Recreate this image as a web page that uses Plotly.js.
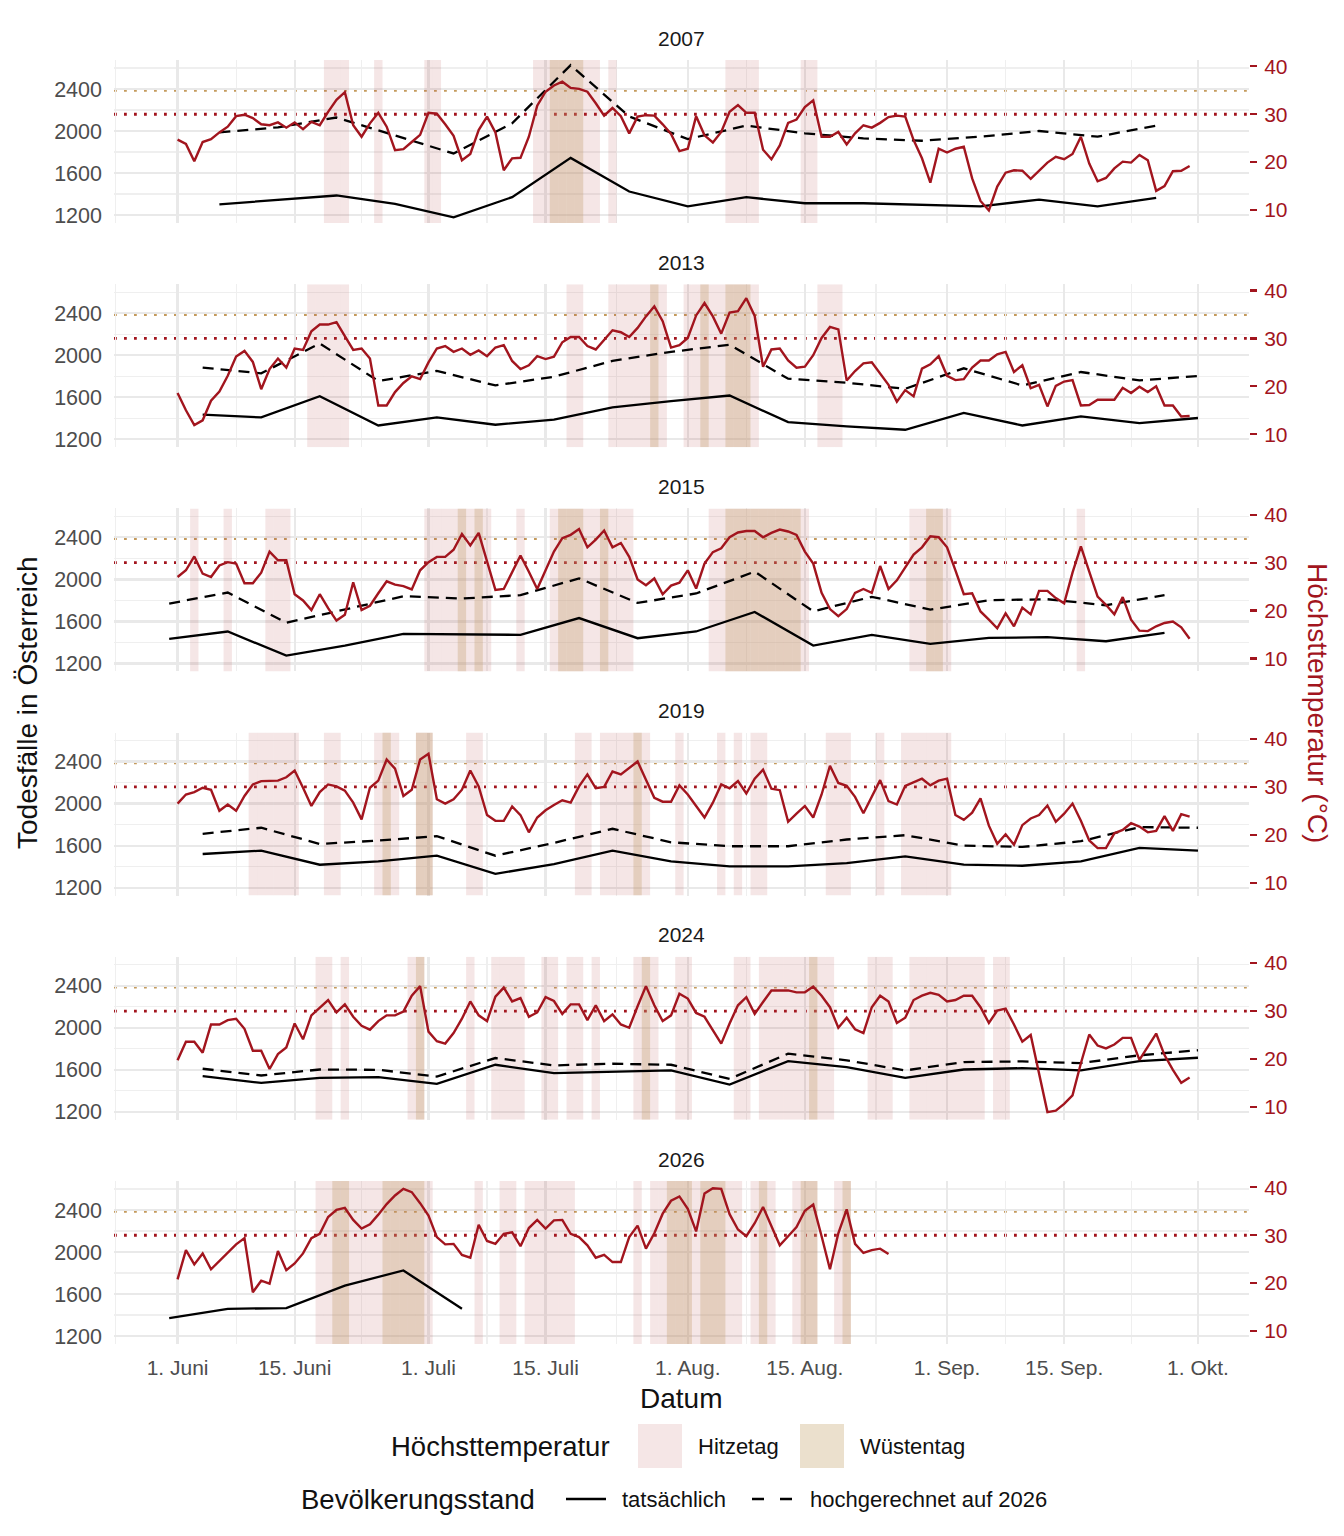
<!DOCTYPE html>
<html>
<head>
<meta charset="utf-8">
<script src="https://cdn.plot.ly/plotly-3.0.1.min.js"></script>
<style>
  body { margin: 0; background: #fff; }
  #chart { width: 1344px; height: 1536px; }
</style>
</head>
<body>
<div id="chart"></div>
<script>
// facet years
var years = ['2007', '2013', '2015', '2019', '2024', '2026'];

// daily maximum temperature (°C), day 0 = 1. Juni
var temp2007 = [
  24.7,23.8,20.2,24.2,24.8,26.2,27.4,29.6,29.9,29.2,
  27.9,27.7,28.3,27.2,28.3,26.9,28.4,27.7,30.5,33.0,
  34.6,27.7,25.3,28.1,30.3,27.4,22.5,22.7,24.2,25.7,
  30.3,30.1,27.9,25.5,20.4,21.7,26.7,29.5,26.2,18.3,
  20.8,20.9,25.3,31.8,34.7,36.0,36.8,35.5,35.3,34.7,
  32.3,29.7,31.3,29.6,26.0,29.5,29.8,29.7,27.9,25.9,
  22.3,22.8,29.6,25.6,24.1,26.3,30.5,31.9,30.3,30.3,
  22.6,20.6,23.5,28.2,28.9,31.5,32.9,25.3,25.3,26.3,
  23.7,26.0,27.7,27.2,28.2,29.4,29.7,29.5,24.6,20.8,
  15.7,22.8,22.0,22.8,23.2,16.6,11.9,9.9,14.9,17.8,
  18.3,18.2,16.5,18.2,19.9,21.1,20.6,21.7,25.3,19.7,
  16.0,16.7,18.7,20.1,19.9,21.5,20.4,14.0,15.0,18.1,18.2,19.2];
var temp2013 = [
  18.6,15.0,11.9,12.9,17.0,18.9,22.2,26.2,27.4,25.1,
  19.4,23.6,25.8,23.9,27.9,27.6,31.5,32.9,32.9,33.4,
  30.5,27.6,27.9,25.8,16.0,16.0,18.8,20.7,22.1,21.5,
  25.0,27.9,28.4,27.2,27.9,26.6,27.5,26.3,28.1,28.6,
  25.3,23.6,24.4,26.3,25.7,26.2,29.2,30.3,30.3,28.4,
  27.7,29.8,31.7,31.3,30.3,32.2,34.6,36.7,33.6,28.1,
  28.6,30.1,34.8,37.4,34.6,31.0,35.4,35.7,38.4,34.7,
  24.1,27.7,27.9,25.4,23.9,24.1,26.5,30.1,32.4,31.9,
  21.2,23.2,24.8,25.0,22.6,20.3,16.8,19.2,17.9,23.7,
  24.6,26.3,22.2,21.3,21.5,23.9,25.4,25.4,26.7,27.2,
  23.0,24.4,19.6,20.3,15.8,20.1,21.0,21.3,16.0,16.1,
  17.2,17.2,17.2,19.7,18.6,19.9,18.8,20.0,16.0,16.0,13.7,13.8];
var temp2015 = [
  27.0,28.4,31.3,27.7,27.0,29.4,30.1,29.8,25.7,25.7,
  27.9,32.3,30.5,30.5,23.4,22.1,20.1,23.4,20.5,17.9,
  19.1,25.9,20.1,21.0,23.6,26.1,25.4,25.1,24.4,28.4,
  30.1,31.2,31.2,32.7,36.0,33.6,36.2,30.5,24.3,24.5,
  27.9,31.5,28.1,24.5,28.4,32.3,35.1,35.8,37.0,33.2,
  34.8,36.7,33.2,34.1,31.2,26.5,25.3,26.7,23.4,25.2,
  25.8,28.4,24.6,29.8,32.2,33.0,35.3,36.3,36.6,36.6,
  35.3,36.2,36.9,36.5,35.8,32.3,29.8,23.7,20.3,18.8,
  20.3,23.7,24.5,23.7,29.3,24.5,26.3,29.1,31.7,33.2,
  35.5,35.3,33.2,28.4,23.4,23.6,19.8,18.1,16.3,19.4,
  16.7,20.6,19.2,24.1,24.1,22.6,21.5,27.9,33.4,28.1,
  22.9,21.2,19.2,22.8,18.1,15.8,15.7,16.7,17.4,17.7,16.5,14.1];
var temp2019 = [
  26.5,28.4,28.9,29.8,29.4,25.0,26.3,25.0,28.1,30.5,
  31.2,31.2,31.3,32.0,33.4,29.8,26.0,28.9,30.5,30.1,
  29.2,26.7,23.2,29.8,31.3,35.7,33.8,28.1,29.4,35.7,
  36.9,27.4,26.5,27.4,29.4,33.4,30.1,24.1,22.9,22.9,
  25.9,24.1,20.5,23.6,25.1,26.2,27.2,26.7,30.1,32.6,
  29.7,30.0,33.2,32.6,33.9,35.3,31.5,27.7,26.9,26.9,
  30.3,28.4,26.0,23.6,26.7,30.5,29.7,31.2,28.6,31.7,
  33.6,29.6,29.3,22.7,24.4,26.0,23.6,28.4,34.4,30.8,
  30.2,27.9,24.5,28.1,31.4,27.0,26.3,30.2,31.0,31.7,
  30.3,31.3,31.7,24.1,23.1,24.6,27.6,21.9,18.1,20.1,
  17.9,22.0,23.4,24.1,26.1,22.7,24.4,26.5,22.9,18.8,
  17.2,17.2,20.3,21.0,22.4,21.7,20.5,20.8,23.9,20.8,24.3,23.8];
var temp2024 = [
  19.7,23.6,23.6,21.3,27.2,27.2,28.1,28.4,26.3,21.7,
  21.7,17.9,21.0,22.4,27.4,24.1,29.1,30.7,32.3,29.7,
  31.4,28.8,26.9,26.1,27.9,29.1,29.1,29.9,33.2,35.2,
  25.7,23.7,23.2,25.4,28.4,32.0,29.1,27.9,33.0,34.9,
  32.0,32.7,28.8,29.7,32.9,32.1,29.4,31.4,31.4,28.1,
  31.2,27.9,29.3,27.2,26.5,31.0,35.2,31.2,27.9,29.1,
  33.6,32.6,29.6,28.8,26.0,23.2,27.4,31.2,32.9,29.4,
  31.9,34.3,34.3,34.3,33.9,33.9,35.1,33.2,30.8,26.5,
  28.6,26.2,25.4,30.8,33.2,32.0,27.5,28.6,32.3,33.2,
  33.8,33.4,32.0,32.3,33.2,33.2,30.8,27.5,30.1,30.5,
  27.2,23.6,25.0,17.3,8.9,9.2,10.6,12.4,19.1,25.1,
  22.8,22.2,23.0,24.4,24.4,19.8,22.6,25.3,20.8,17.7,15.0,16.1];
var temp2026 = [
  20.8,26.9,23.9,26.2,22.9,24.6,26.3,28.1,29.4,18.1,
  20.5,19.9,26.7,22.7,24.1,26.2,29.4,30.3,33.8,35.3,
  35.7,33.2,31.4,32.3,34.3,36.5,38.3,39.7,39.0,36.7,
  34.1,29.6,28.1,28.2,25.9,25.3,32.2,28.8,28.2,30.3,
  30.6,27.7,31.5,33.2,31.4,33.1,33.2,30.3,29.6,27.9,
  25.3,25.9,24.4,24.4,29.6,32.0,27.2,30.4,34.5,37.2,
  38.1,35.5,30.8,38.7,39.8,39.7,34.4,31.2,29.8,32.5,
  35.9,31.8,27.9,29.8,31.7,35.1,36.4,29.8,22.9,30.4,
  35.4,28.2,26.3,26.9,27.2,26.1];

// Hitzetage (>= 30 °C) and Wüstentage (>= 35 °C) as [first day, last day]
var hitze2007 = [[18,20],[24,24],[30,31],[43,50],[52,52],[66,69],[75,76]];
var wueste2007 = [[45,48]];
var hitze2013 = [[16,20],[47,48],[52,58],[61,69],[77,79]];
var wueste2013 = [[57,57],[63,63],[66,68]];
var hitze2015 = [[2,2],[6,6],[11,13],[30,37],[41,41],[45,54],[64,75],[88,92],[108,108]];
var wueste2015 = [[34,34],[36,36],[46,48],[51,51],[66,74],[90,91]];
var hitze2019 = [[9,14],[18,19],[24,26],[29,30],[35,36],[48,49],[51,56],[60,60],[65,65],[67,67],[69,70],[78,80],[84,84],[87,92]];
var wueste2019 = [[25,25],[29,30],[55,55]];
var hitze2024 = [[17,18],[20,20],[28,29],[35,35],[38,41],[44,45],[47,48],[50,50],[55,57],[60,61],[67,68],[70,78],[83,85],[88,96],[98,99]];
var wueste2024 = [[29,29],[56,56],[76,76]];
var hitze2026 = [[17,30],[36,36],[39,40],[42,47],[55,55],[57,67],[69,71],[74,76],[79,80]];
var wueste2026 = [[19,20],[25,29],[59,61],[63,65],[70,70],[75,76],[80,80]];

// weekly deaths: week day (days after 1. Juni), actual, projected to 2026 population
var week2007 = [5,12,19,26,33,40,47,54,61,68,75,82,89,96,103,110,117];
var actual2007 = [1302,1344,1386,1306,1178,1370,1744,1424,1283,1370,1312,1312,1299,1283,1347,1283,1363];
var proj2007 = [1987,2035,2128,1955,1786,2074,2627,2138,1923,2051,1978,1930,1907,1946,2000,1946,2051];
var week2013 = [3,10,17,24,31,38,45,52,59,66,73,80,87,94,101,108,115,122];
var actual2013 = [1434,1408,1610,1331,1408,1338,1386,1504,1562,1616,1363,1322,1290,1450,1331,1418,1354,1402];
var proj2013 = [1882,1827,2112,1754,1850,1712,1795,1946,2032,2099,1776,1738,1680,1875,1712,1840,1760,1802];
var week2015 = [-1,6,13,20,27,34,41,48,55,62,69,76,83,90,97,104,111,118];
var actual2015 = [1434,1504,1274,1370,1482,1475,1472,1632,1440,1504,1690,1370,1472,1386,1443,1450,1411,1491];
var proj2015 = [1770,1875,1587,1712,1840,1818,1850,2010,1776,1866,2074,1696,1834,1712,1802,1811,1754,1850];
var week2019 = [3,10,17,24,31,38,45,52,59,66,73,80,87,94,101,108,115,122];
var actual2019 = [1520,1552,1418,1450,1504,1331,1424,1552,1450,1402,1402,1434,1498,1418,1408,1450,1578,1552];
var proj2019 = [1712,1770,1616,1648,1690,1504,1626,1760,1632,1594,1594,1658,1699,1600,1587,1642,1776,1770];
var week2024 = [3,10,17,24,31,38,45,52,59,66,73,80,87,94,101,108,115,122];
var actual2024 = [1539,1475,1523,1530,1466,1648,1568,1584,1594,1459,1683,1626,1523,1603,1616,1594,1683,1715];
var proj2024 = [1610,1546,1603,1600,1536,1712,1642,1658,1648,1514,1754,1690,1594,1674,1680,1664,1738,1786];
var week2026 = [-1,6,13,20,27,34];
var actual2026 = [1370,1459,1466,1680,1824,1459];
var proj2026 = [];

// x axis ticks (days after 1. Juni)
var tickDays = [0,14,30,44,61,75,92,106,122];
var tickLabels = ['1. Juni','15. Juni','1. Juli','15. Juli','1. Aug.','15. Aug.','1. Sep.','15. Sep.','1. Okt.'];
var minorDays = [-7.4,7,22,37,52.5,68,83.5,99,114];

var temps = [temp2007,temp2013,temp2015,temp2019,temp2024,temp2026];
var hitze = [hitze2007,hitze2013,hitze2015,hitze2019,hitze2024,hitze2026];
var wueste = [wueste2007,wueste2013,wueste2015,wueste2019,wueste2024,wueste2026];
var weeks = [week2007,week2013,week2015,week2019,week2024,week2026];
var actual = [actual2007,actual2013,actual2015,actual2019,actual2024,actual2026];
var proj = [proj2007,proj2013,proj2015,proj2019,proj2024,proj2026];

var W = 1344, H = 1536;
var FONT = 'Liberation Sans, Arial, Helvetica, sans-serif';
var RED = '#a2151e';
var PINK = 'rgba(180,60,60,0.13)';
var TAN = 'rgba(195,160,115,0.34)';
var GRID = '#e9e9e9', GRID_MINOR = '#efefef';
var yLo = 1124, yHi = 2676;
// secondary axis: deaths = 1247.6 + 45.6 * (temp - 10)
function tempOf(d) { return 10 + (d - 1247.6) / 45.6; }
function px(v) { return v / W; }
function py(v) { return 1 - v / H; }

function expand(ranges) {
  var out = [];
  ranges.forEach(function (r) {
    for (var d = r[0]; d <= r[1]; d++) out.push(d);
  });
  return out;
}

var data = [];
var layout = {
  width: W, height: H,
  margin: {l: 0, r: 0, t: 0, b: 0},
  paper_bgcolor: '#fff', plot_bgcolor: 'rgba(0,0,0,0)',
  showlegend: false, hovermode: false, barmode: 'overlay',
  font: {family: FONT, color: '#1a1a1a'},
  shapes: [], annotations: []
};

for (var i = 0; i < years.length; i++) {
  var xa = i === 0 ? 'x' : 'x' + (i + 1);
  var yl = i === 0 ? 'y' : 'y' + (2 * i + 1);
  var yr = 'y' + (2 * i + 2);
  var panelTop = 60 + 224.2 * i, panelBottom = panelTop + 163;

  //shaded hot days span the whole panel height
  var hd = expand(hitze[i]), wd = expand(wueste[i]);
  data.push({type: 'bar', x: hd, y: hd.map(function () { return yHi - yLo; }), base: yLo,
    width: 1, marker: {color: PINK, line: {width: 0}}, xaxis: xa, yaxis: yl, hoverinfo: 'skip'});
  data.push({type: 'bar', x: wd, y: wd.map(function () { return yHi - yLo; }), base: yLo,
    width: 1, marker: {color: TAN, line: {width: 0}}, xaxis: xa, yaxis: yl, hoverinfo: 'skip'});

  data.push({type: 'scatter', mode: 'lines', x: weeks[i], y: actual[i],
    line: {color: '#000', width: 2.3}, xaxis: xa, yaxis: yl});
  if (proj[i].length) {
    data.push({type: 'scatter', mode: 'lines', x: weeks[i], y: proj[i],
      line: {color: '#000', width: 2.3, dash: '11px,7px'}, xaxis: xa, yaxis: yl});
  }
  data.push({type: 'scatter', mode: 'lines', x: temps[i].map(function (_, d) { return d; }), y: temps[i],
    line: {color: RED, width: 2.4}, xaxis: xa, yaxis: yr});

  layout[i === 0 ? 'xaxis' : 'xaxis' + (i + 1)] = {
    domain: [px(114), px(1249)], range: [-7.6, 128.1], anchor: yl,
    tickmode: 'array', tickvals: tickDays, ticktext: tickLabels,
    showticklabels: i === years.length - 1, ticks: '', ticklabelstandoff: 9,
    tickfont: {size: 21, color: '#4d4d4d'},
    showgrid: true, gridcolor: GRID, gridwidth: 2.2,
    minor: {tickvals: minorDays, showgrid: true, gridcolor: GRID_MINOR, gridwidth: 1.1, ticks: ''},
    zeroline: false, showline: false, fixedrange: true
  };
  layout[i === 0 ? 'yaxis' : 'yaxis' + (2 * i + 1)] = {
    domain: [py(panelBottom), py(panelTop)], range: [yLo, yHi], anchor: xa,
    tickmode: 'array', tickvals: [1200, 1600, 2000, 2400], ticks: '', ticklabelstandoff: 11,
    tickfont: {size: 21.5, color: '#4d4d4d'},
    showgrid: true, gridcolor: GRID, gridwidth: 2.2,
    minor: {tickvals: [1400, 1800, 2200, 2600], showgrid: true, gridcolor: GRID_MINOR, gridwidth: 1.1, ticks: ''},
    zeroline: false, showline: false, fixedrange: true
  };
  layout['yaxis' + (2 * i + 2)] = {
    overlaying: yl, side: 'right', anchor: xa,
    range: [tempOf(yLo), tempOf(yHi)], tickmode: 'array', tickvals: [10, 20, 30, 40],
    ticks: 'outside', ticklen: 7, tickwidth: 2.2, tickcolor: RED, ticklabelstandoff: 3,
    tickfont: {size: 21, color: RED},
    showgrid: false, zeroline: false, showline: false, fixedrange: true
  };

  //threshold lines at 30 and 35 °C
  layout.shapes.push({type: 'line', xref: xa + ' domain', yref: yr, x0: 0, x1: 1, y0: 30, y1: 30,
    line: {color: RED, width: 2.8, dash: '2.8px,7.2px'}, layer: 'below'});
  layout.shapes.push({type: 'line', xref: xa + ' domain', yref: yr, x0: 0, x1: 1, y0: 35, y1: 35,
    line: {color: '#c49a5c', width: 2.8, dash: '2.8px,7.2px'}, layer: 'below'});

  layout.annotations.push({text: years[i], xref: 'paper', yref: 'paper',
    x: px((114 + 1249) / 2), y: py(panelTop - 22), showarrow: false,
    font: {size: 21, color: '#1a1a1a'}, xanchor: 'center', yanchor: 'middle'});
}

// axis titles
function title(t, x, y, angle, color) {
  layout.annotations.push({text: t, xref: 'paper', yref: 'paper', x: px(x), y: py(y),
    xanchor: 'center', yanchor: 'middle', textangle: angle, showarrow: false,
    font: {size: 28, color: color}});
}
title('Todesfälle in Österreich', 27, 703, -90, '#111');
title('Höchsttemperatur (°C)', 1318, 703, 90, RED);
title('Datum', 681, 1398, 0, '#111');

// legend, drawn by hand
function legendText(t, x, y, size) {
  layout.annotations.push({text: t, xref: 'paper', yref: 'paper', x: px(x), y: py(y),
    xanchor: 'left', yanchor: 'middle', showarrow: false, font: {size: size, color: '#111'}});
}
legendText('Höchsttemperatur', 389, 1446, 27.5);
legendText('Hitzetag', 696, 1446, 22);
legendText('Wüstentag', 858, 1446, 22);
legendText('Bevölkerungsstand', 299, 1499, 27.5);
legendText('tatsächlich', 620, 1499, 22);
legendText('hochgerechnet auf 2026', 808, 1499, 22);
layout.shapes.push({type: 'rect', xref: 'paper', yref: 'paper', x0: px(638), x1: px(682),
  y0: py(1468), y1: py(1424), fillcolor: '#f5e6e6', line: {width: 0}});
layout.shapes.push({type: 'rect', xref: 'paper', yref: 'paper', x0: px(800), x1: px(844),
  y0: py(1468), y1: py(1424), fillcolor: '#ebe0cd', line: {width: 0}});
layout.shapes.push({type: 'line', xref: 'paper', yref: 'paper', x0: px(566), x1: px(606),
  y0: py(1499), y1: py(1499), line: {color: '#000', width: 2.3}});
layout.shapes.push({type: 'line', xref: 'paper', yref: 'paper', x0: px(752), x1: px(792),
  y0: py(1499), y1: py(1499), line: {color: '#000', width: 2.3, dash: '12px,16px'}});

Plotly.newPlot('chart', data, layout, {displayModeBar: false, staticPlot: true});
</script>
</body>
</html>
